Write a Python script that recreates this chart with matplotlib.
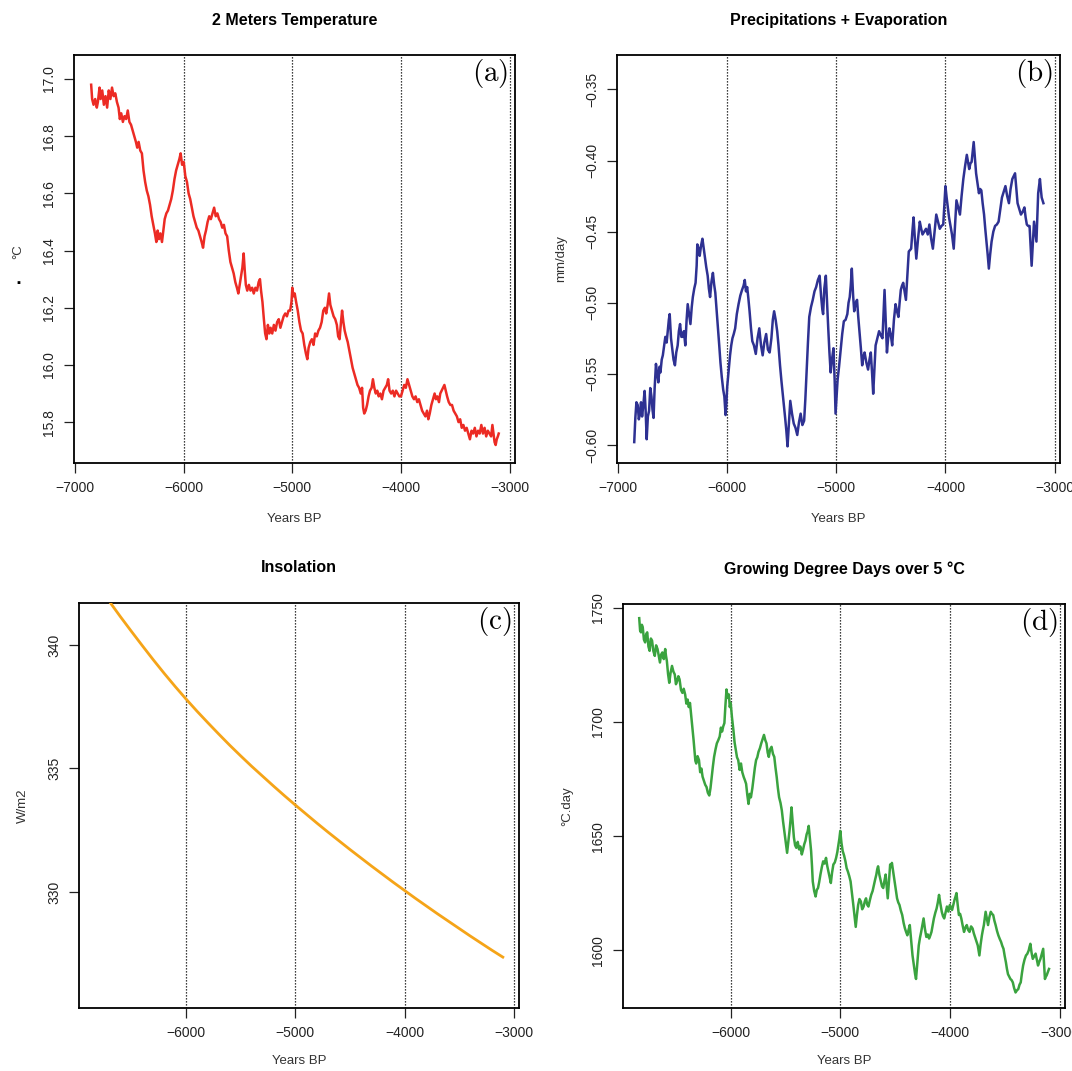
import matplotlib.pyplot as plt

plt.rcParams['font.family'] = ['Liberation Sans', 'DejaVu Sans']
plt.rcParams['mathtext.fontset'] = 'cm'

# (year, value)
temp = [(-6852,16.98),(-6843,16.93),(-6830,16.91),(-6815,16.93),(-6800,16.90),(-6790,16.92),(-6775,16.97),(-6765,16.93),
        (-6750,16.96),(-6735,16.91),(-6720,16.94),(-6705,16.90),(-6690,16.96),(-6675,16.93),(-6660,16.97),(-6645,16.94),
        (-6630,16.95),(-6615,16.92),(-6600,16.90),(-6588,16.86),(-6575,16.88),(-6560,16.85),(-6545,16.87),(-6530,16.86),
        (-6515,16.89),(-6500,16.85),(-6485,16.84),(-6470,16.82),(-6455,16.80),(-6440,16.78),(-6428,16.76),(-6415,16.78),
        (-6400,16.75),(-6385,16.74),(-6370,16.68),(-6355,16.64),(-6340,16.61),(-6325,16.59),(-6310,16.56),(-6295,16.52),
        (-6280,16.49),(-6265,16.46),(-6252,16.43),(-6240,16.47),(-6228,16.44),(-6215,16.46),(-6200,16.43),(-6188,16.47),
        (-6175,16.51),(-6160,16.53),(-6145,16.54),(-6130,16.56),(-6115,16.58),(-6100,16.61),(-6085,16.65),(-6070,16.68),
        (-6055,16.70),(-6040,16.72),(-6028,16.74),(-6015,16.70),(-6000,16.71),(-5985,16.66),(-5970,16.64),(-5955,16.60),
        (-5940,16.58),(-5925,16.55),(-5910,16.52),(-5895,16.50),(-5880,16.48),(-5865,16.47),(-5850,16.45),(-5835,16.43),
        (-5822,16.41),(-5808,16.45),(-5795,16.47),(-5780,16.50),(-5765,16.52),(-5750,16.51),(-5735,16.53),(-5720,16.55),
        (-5705,16.52),(-5690,16.53),(-5675,16.51),(-5660,16.50),(-5645,16.48),(-5630,16.49),(-5615,16.46),(-5600,16.45),
        (-5585,16.40),(-5570,16.36),(-5555,16.34),(-5540,16.32),(-5525,16.29),(-5510,16.27),(-5497,16.25),(-5485,16.28),
        (-5472,16.31),(-5460,16.34),(-5448,16.39),(-5438,16.33),(-5428,16.28),(-5415,16.26),(-5400,16.28),(-5385,16.26),
        (-5370,16.27),(-5355,16.25),(-5340,16.27),(-5325,16.26),(-5310,16.29),(-5298,16.30),(-5288,16.26),(-5275,16.22),
        (-5262,16.16),(-5250,16.11),(-5238,16.09),(-5225,16.14),(-5212,16.11),(-5200,16.13),(-5185,16.11),(-5170,16.14),
        (-5155,16.12),(-5140,16.15),(-5125,16.16),(-5110,16.13),(-5095,16.15),(-5080,16.17),(-5065,16.18),(-5050,16.17),
        (-5035,16.19),(-5020,16.19),(-5008,16.22),(-5000,16.27),(-4990,16.24),(-4978,16.25),(-4965,16.22),(-4950,16.19),
        (-4935,16.15),(-4920,16.12),(-4905,16.11),(-4890,16.07),(-4875,16.04),(-4862,16.02),(-4850,16.06),(-4835,16.08),
        (-4820,16.09),(-4805,16.07),(-4790,16.11),(-4775,16.10),(-4760,16.12),(-4745,16.13),(-4730,16.15),(-4715,16.19),
        (-4700,16.20),(-4688,16.18),(-4675,16.21),(-4662,16.25),(-4650,16.21),(-4635,16.19),(-4620,16.17),(-4605,16.16),
        (-4590,16.14),(-4578,16.10),(-4565,16.09),(-4552,16.15),(-4542,16.19),(-4530,16.15),(-4518,16.12),(-4505,16.10),
        (-4490,16.08),(-4475,16.05),(-4460,16.02),(-4445,15.99),(-4430,15.97),(-4415,15.95),(-4400,15.93),(-4385,15.92),
        (-4370,15.90),(-4358,15.92),(-4348,15.85),(-4338,15.83),(-4325,15.84),(-4312,15.86),(-4298,15.89),(-4285,15.91),
        (-4270,15.92),(-4258,15.95),(-4245,15.92),(-4232,15.90),(-4218,15.91),(-4205,15.89),(-4190,15.90),(-4175,15.88),
        (-4160,15.91),(-4145,15.92),(-4130,15.93),(-4118,15.95),(-4105,15.91),(-4090,15.90),(-4075,15.91),(-4060,15.89),
        (-4045,15.91),(-4030,15.90),(-4015,15.89),(-4000,15.89),(-3985,15.91),(-3970,15.93),(-3955,15.92),(-3940,15.95),
        (-3925,15.93),(-3910,15.91),(-3895,15.89),(-3880,15.88),(-3865,15.89),(-3850,15.87),(-3835,15.88),(-3820,15.86),
        (-3805,15.84),(-3790,15.83),(-3775,15.82),(-3760,15.84),(-3748,15.81),(-3735,15.83),(-3720,15.86),(-3705,15.88),
        (-3690,15.90),(-3678,15.88),(-3665,15.89),(-3650,15.87),(-3638,15.90),(-3625,15.91),(-3612,15.92),(-3600,15.93),
        (-3588,15.91),(-3575,15.89),(-3560,15.87),(-3545,15.86),(-3530,15.86),(-3515,15.84),(-3500,15.83),(-3485,15.82),
        (-3470,15.80),(-3455,15.81),(-3440,15.78),(-3425,15.79),(-3410,15.77),(-3395,15.78),(-3380,15.76),(-3365,15.74),
        (-3350,15.77),(-3335,15.76),(-3320,15.78),(-3305,15.75),(-3290,15.77),(-3275,15.76),(-3260,15.79),(-3245,15.76),
        (-3230,15.78),(-3215,15.75),(-3200,15.77),(-3185,15.76),(-3170,15.75),(-3158,15.79),(-3148,15.76),(-3138,15.73),
        (-3128,15.72),(-3118,15.74),(-3108,15.75),(-3100,15.76)]

pe = [(-6852,-0.598),(-6842,-0.581),(-6832,-0.570),(-6820,-0.572),(-6810,-0.582),(-6800,-0.578),(-6790,-0.570),
      (-6780,-0.580),(-6770,-0.573),(-6757,-0.562),(-6748,-0.575),(-6738,-0.596),(-6727,-0.580),(-6716,-0.576),
      (-6705,-0.560),(-6694,-0.566),(-6685,-0.575),(-6675,-0.581),(-6665,-0.560),(-6653,-0.543),(-6642,-0.550),
      (-6631,-0.556),(-6620,-0.545),(-6612,-0.549),(-6600,-0.540),(-6590,-0.537),(-6578,-0.530),(-6567,-0.524),
      (-6555,-0.528),(-6542,-0.518),(-6535,-0.512),(-6527,-0.508),(-6515,-0.525),(-6504,-0.532),(-6492,-0.540),
      (-6479,-0.544),(-6467,-0.535),(-6454,-0.530),(-6443,-0.520),(-6432,-0.515),(-6420,-0.524),(-6410,-0.524),
      (-6397,-0.520),(-6384,-0.530),(-6372,-0.512),(-6362,-0.501),(-6350,-0.508),(-6337,-0.515),(-6325,-0.503),
      (-6315,-0.496),(-6302,-0.490),(-6290,-0.486),(-6280,-0.474),(-6274,-0.459),(-6262,-0.462),(-6252,-0.467),
      (-6240,-0.460),(-6227,-0.455),(-6215,-0.462),(-6204,-0.469),(-6192,-0.475),(-6179,-0.481),(-6168,-0.490),
      (-6157,-0.496),(-6144,-0.485),(-6131,-0.479),(-6120,-0.487),(-6109,-0.493),(-6097,-0.505),(-6084,-0.518),
      (-6073,-0.530),(-6062,-0.542),(-6050,-0.552),(-6037,-0.561),(-6026,-0.566),(-6015,-0.579),(-6007,-0.570),
      (-6000,-0.559),(-5987,-0.548),(-5974,-0.537),(-5963,-0.530),(-5952,-0.525),(-5940,-0.522),(-5927,-0.518),
      (-5912,-0.508),(-5896,-0.501),(-5880,-0.495),(-5864,-0.491),(-5850,-0.488),(-5839,-0.484),(-5828,-0.492),
      (-5817,-0.489),(-5806,-0.497),(-5795,-0.506),(-5782,-0.518),(-5770,-0.527),(-5755,-0.530),(-5738,-0.536),
      (-5722,-0.525),(-5706,-0.518),(-5690,-0.530),(-5675,-0.537),(-5660,-0.528),(-5643,-0.522),(-5627,-0.533),
      (-5611,-0.535),(-5595,-0.525),(-5582,-0.512),(-5570,-0.506),(-5556,-0.512),(-5542,-0.520),(-5530,-0.530),
      (-5516,-0.544),(-5503,-0.555),(-5491,-0.564),(-5480,-0.572),(-5469,-0.581),(-5458,-0.590),(-5447,-0.601),
      (-5435,-0.585),(-5422,-0.569),(-5406,-0.578),(-5390,-0.585),(-5374,-0.588),(-5358,-0.593),(-5342,-0.584),
      (-5327,-0.578),(-5311,-0.586),(-5295,-0.583),(-5284,-0.568),(-5273,-0.549),(-5260,-0.528),(-5248,-0.510),
      (-5232,-0.503),(-5216,-0.498),(-5200,-0.492),(-5185,-0.489),(-5169,-0.484),(-5153,-0.481),(-5140,-0.495),
      (-5128,-0.505),(-5121,-0.508),(-5110,-0.490),(-5096,-0.481),(-5085,-0.500),(-5074,-0.518),(-5063,-0.535),
      (-5052,-0.549),(-5040,-0.540),(-5026,-0.532),(-5015,-0.555),(-5007,-0.578),(-4998,-0.566),(-4988,-0.554),
      (-4975,-0.545),(-4962,-0.535),(-4946,-0.522),(-4931,-0.513),(-4915,-0.512),(-4899,-0.508),(-4888,-0.500),
      (-4877,-0.496),(-4868,-0.488),(-4858,-0.476),(-4846,-0.495),(-4836,-0.506),(-4822,-0.500),(-4810,-0.498),
      (-4799,-0.510),(-4788,-0.520),(-4775,-0.532),(-4763,-0.544),(-4752,-0.538),(-4741,-0.535),(-4725,-0.542),
      (-4709,-0.547),(-4696,-0.540),(-4684,-0.535),(-4672,-0.550),(-4662,-0.564),(-4650,-0.545),(-4640,-0.530),
      (-4624,-0.525),(-4608,-0.520),(-4592,-0.523),(-4577,-0.525),(-4568,-0.508),(-4558,-0.491),(-4546,-0.515),
      (-4536,-0.535),(-4525,-0.525),(-4514,-0.518),(-4500,-0.523),(-4488,-0.530),(-4472,-0.512),(-4457,-0.501),
      (-4444,-0.506),(-4431,-0.510),(-4420,-0.500),(-4409,-0.491),(-4398,-0.488),(-4387,-0.486),(-4375,-0.492),
      (-4362,-0.498),(-4348,-0.480),(-4336,-0.464),(-4325,-0.463),(-4314,-0.462),(-4303,-0.450),(-4292,-0.440),
      (-4280,-0.455),(-4267,-0.469),(-4251,-0.455),(-4235,-0.443),(-4222,-0.448),(-4210,-0.452),(-4194,-0.450),
      (-4178,-0.448),(-4162,-0.452),(-4147,-0.445),(-4131,-0.455),(-4115,-0.462),(-4100,-0.450),(-4084,-0.438),
      (-4068,-0.443),(-4052,-0.448),(-4036,-0.446),(-4020,-0.445),(-4010,-0.432),(-4000,-0.418),(-3989,-0.426),
      (-3978,-0.433),(-3967,-0.440),(-3956,-0.445),(-3940,-0.452),(-3924,-0.462),(-3912,-0.445),(-3899,-0.428),
      (-3883,-0.433),(-3867,-0.438),(-3852,-0.425),(-3836,-0.413),(-3820,-0.404),(-3804,-0.396),(-3793,-0.401),
      (-3782,-0.406),(-3771,-0.402),(-3760,-0.401),(-3750,-0.394),(-3741,-0.387),(-3730,-0.398),(-3719,-0.409),
      (-3706,-0.416),(-3693,-0.423),(-3682,-0.420),(-3671,-0.421),(-3659,-0.430),(-3646,-0.438),(-3635,-0.448),
      (-3624,-0.457),(-3613,-0.466),(-3602,-0.476),(-3590,-0.466),(-3577,-0.457),(-3561,-0.450),(-3545,-0.446),
      (-3529,-0.445),(-3513,-0.443),(-3498,-0.435),(-3482,-0.426),(-3466,-0.422),(-3450,-0.418),(-3434,-0.425),
      (-3418,-0.430),(-3403,-0.420),(-3387,-0.413),(-3375,-0.411),(-3362,-0.409),(-3350,-0.420),(-3339,-0.430),
      (-3323,-0.434),(-3308,-0.438),(-3292,-0.436),(-3276,-0.433),(-3265,-0.440),(-3254,-0.445),(-3242,-0.446),
      (-3229,-0.446),(-3220,-0.460),(-3210,-0.474),(-3199,-0.458),(-3188,-0.443),(-3177,-0.450),(-3166,-0.457),
      (-3158,-0.440),(-3150,-0.423),(-3142,-0.418),(-3134,-0.413),(-3126,-0.420),(-3118,-0.426),(-3110,-0.428),
      (-3102,-0.430)]

insol_years = [-6860, -6800, -6700, -6600, -6500, -6400, -6300, -6200, -6100, -6000, -5900, -5800, -5700, -5600,
               -5500, -5400, -5300, -5200, -5100, -5000, -4900, -4800, -4700, -4600, -4500, -4400, -4300, -4200,
               -4100, -4000, -3900, -3800, -3700, -3600, -3500, -3400, -3300, -3200, -3100]
insol_vals = [342.75, 342.38, 341.75, 341.14, 340.55, 339.97, 339.40, 338.85, 338.32, 337.81, 337.32, 336.85,
              336.39, 335.94, 335.51, 335.09, 334.69, 334.29, 333.90, 333.52, 333.15, 332.78, 332.42, 332.07,
              331.72, 331.38, 331.04, 330.71, 330.38, 330.06, 329.74, 329.43, 329.12, 328.82, 328.52, 328.22,
              327.93, 327.64, 327.36]

gdd = [(-6834,1745.4),(-6826,1740.0),(-6818,1739.2),(-6810,1742.5),(-6802,1741.5),(-6791,1736.0),(-6780,1734.8),
       (-6770,1738.5),(-6761,1739.2),(-6750,1733.0),(-6739,1731.1),(-6728,1736.5),(-6717,1735.6),(-6705,1731.0),
       (-6692,1728.9),(-6680,1733.5),(-6667,1731.9),(-6656,1729.0),(-6645,1726.0),(-6634,1729.5),(-6623,1730.4),
       (-6610,1727.5),(-6597,1731.9),(-6590,1729.0),(-6582,1726.7),(-6571,1721.0),(-6560,1717.1),(-6548,1721.5),
       (-6535,1724.5),(-6522,1722.0),(-6510,1720.8),(-6499,1716.5),(-6488,1717.9),(-6477,1720.0),(-6466,1718.6),
       (-6453,1714.0),(-6440,1712.7),(-6428,1714.5),(-6415,1712.0),(-6404,1708.0),(-6393,1709.8),(-6382,1706.5),
       (-6371,1708.3),(-6358,1702.0),(-6346,1696.5),(-6338,1692.0),(-6330,1687.7),(-6322,1683.0),(-6314,1681.8),
       (-6302,1685.0),(-6289,1683.3),(-6278,1678.0),(-6267,1679.6),(-6256,1676.0),(-6245,1674.4),(-6232,1672.5),
       (-6220,1671.5),(-6208,1669.0),(-6195,1667.8),(-6184,1671.0),(-6173,1675.9),(-6162,1680.5),(-6151,1684.7),
       (-6138,1688.0),(-6126,1690.6),(-6113,1692.0),(-6100,1693.6),(-6089,1697.5),(-6078,1695.8),(-6068,1698.0),
       (-6057,1699.5),(-6048,1707.0),(-6038,1714.2),(-6027,1710.5),(-6016,1712.0),(-6008,1706.5),(-6000,1708.3),
       (-5988,1702.0),(-5975,1696.5),(-5964,1691.0),(-5953,1687.7),(-5942,1684.5),(-5931,1683.3),(-5918,1679.0),
       (-5906,1681.8),(-5894,1678.0),(-5881,1675.9),(-5870,1674.5),(-5859,1672.9),(-5848,1668.0),(-5837,1664.1),
       (-5826,1668.5),(-5815,1667.0),(-5802,1671.0),(-5790,1675.9),(-5779,1680.0),(-5768,1683.3),(-5757,1684.5),
       (-5746,1686.9),(-5733,1688.5),(-5721,1690.6),(-5708,1692.5),(-5696,1694.3),(-5684,1692.0),(-5673,1690.6),
       (-5662,1686.5),(-5652,1684.7),(-5640,1688.0),(-5627,1689.1),(-5614,1686.0),(-5602,1684.7),(-5591,1680.0),
       (-5580,1675.9),(-5569,1671.0),(-5558,1667.0),(-5545,1664.5),(-5533,1661.2),(-5522,1656.5),(-5511,1652.3),
       (-5498,1647.0),(-5485,1642.7),(-5474,1647.5),(-5463,1652.3),(-5454,1657.0),(-5445,1662.6),(-5434,1656.0),
       (-5423,1649.4),(-5412,1646.0),(-5401,1644.9),(-5388,1647.5),(-5376,1644.2),(-5364,1645.5),(-5351,1642.0),
       (-5340,1644.0),(-5329,1646.4),(-5318,1648.0),(-5307,1650.8),(-5298,1652.0),(-5288,1654.5),(-5277,1649.0),
       (-5266,1643.5),(-5258,1637.0),(-5251,1630.2),(-5238,1626.0),(-5225,1623.6),(-5214,1626.5),(-5203,1627.3),
       (-5192,1630.0),(-5181,1633.2),(-5168,1636.5),(-5156,1639.0),(-5143,1638.0),(-5130,1640.5),(-5119,1637.0),
       (-5108,1634.6),(-5097,1632.0),(-5086,1629.5),(-5075,1634.0),(-5063,1637.6),(-5050,1638.5),(-5038,1640.5),
       (-5027,1643.0),(-5016,1646.4),(-5008,1649.0),(-5000,1652.3),(-4989,1647.0),(-4978,1643.5),(-4965,1641.5),
       (-4953,1639.0),(-4942,1636.0),(-4931,1634.6),(-4918,1632.5),(-4906,1630.2),(-4893,1625.0),(-4881,1619.9),
       (-4870,1615.0),(-4859,1610.3),(-4848,1615.5),(-4837,1619.9),(-4825,1622.5),(-4812,1621.4),(-4800,1618.0),
       (-4787,1619.2),(-4776,1621.5),(-4765,1622.8),(-4754,1620.0),(-4743,1619.2),(-4730,1622.0),(-4718,1624.3),
       (-4705,1626.0),(-4693,1628.7),(-4682,1631.0),(-4671,1633.2),(-4663,1635.5),(-4655,1636.8),(-4643,1633.0),
       (-4630,1630.2),(-4619,1628.0),(-4608,1627.3),(-4597,1630.5),(-4586,1633.2),(-4576,1628.0),(-4567,1622.8),
       (-4556,1630.0),(-4545,1637.6),(-4537,1636.5),(-4529,1638.3),(-4516,1634.0),(-4504,1630.2),(-4493,1626.5),
       (-4482,1622.8),(-4471,1621.0),(-4460,1619.9),(-4448,1617.5),(-4435,1615.5),(-4422,1612.0),(-4410,1609.6),
       (-4399,1608.0),(-4388,1606.6),(-4377,1609.0),(-4366,1611.1),(-4353,1604.0),(-4341,1597.8),(-4333,1595.0),
       (-4325,1591.9),(-4317,1589.5),(-4309,1587.5),(-4296,1595.0),(-4284,1602.2),(-4273,1605.5),(-4262,1608.1),
       (-4251,1611.0),(-4240,1614.0),(-4228,1609.5),(-4215,1605.9),(-4202,1607.0),(-4190,1605.2),(-4179,1606.5),
       (-4168,1608.1),(-4157,1611.0),(-4146,1614.0),(-4133,1616.5),(-4121,1618.4),(-4110,1621.0),(-4099,1624.3),
       (-4087,1620.5),(-4074,1616.9),(-4063,1615.0),(-4052,1614.0),(-4040,1616.5),(-4027,1619.2),(-4014,1617.0),
       (-4000,1619.9),(-3990,1618.5),(-3980,1617.7),(-3969,1620.0),(-3958,1622.1),(-3949,1623.5),(-3940,1625.1),
       (-3929,1620.0),(-3918,1615.5),(-3907,1616.0),(-3896,1614.0),(-3884,1611.0),(-3871,1608.1),(-3859,1610.0),
       (-3846,1611.1),(-3834,1609.0),(-3821,1608.1),(-3807,1610.5),(-3793,1609.6),(-3782,1607.5),(-3771,1605.9),
       (-3758,1604.0),(-3746,1602.2),(-3738,1600.0),(-3731,1597.8),(-3720,1602.5),(-3708,1606.6),(-3699,1609.0),
       (-3690,1611.1),(-3682,1614.0),(-3674,1616.9),(-3663,1614.0),(-3652,1611.1),(-3640,1614.5),(-3627,1616.9),
       (-3616,1616.0),(-3605,1615.5),(-3594,1613.0),(-3583,1611.1),(-3570,1608.5),(-3558,1606.6),(-3545,1605.0),
       (-3533,1603.7),(-3522,1602.0),(-3511,1600.7),(-3500,1597.5),(-3489,1594.8),(-3480,1592.0),(-3470,1589.6),
       (-3459,1588.5),(-3448,1587.5),(-3437,1587.0),(-3426,1586.0),(-3414,1583.5),(-3401,1581.6),(-3389,1582.5),
       (-3376,1583.1),(-3365,1585.0),(-3354,1586.0),(-3343,1590.0),(-3332,1593.4),(-3319,1596.0),(-3306,1597.8),
       (-3294,1598.5),(-3281,1600.0),(-3274,1601.5),(-3266,1602.9),(-3255,1599.0),(-3244,1596.3),(-3231,1597.5),
       (-3218,1598.6),(-3207,1596.0),(-3196,1593.4),(-3185,1595.0),(-3174,1596.3),(-3162,1598.5),(-3149,1600.7),
       (-3141,1594.0),(-3133,1587.5),(-3126,1588.5),(-3118,1589.0),(-3107,1590.5),(-3096,1591.9)]

grid_years = [-6000, -5000, -4000, -3000]

W, H = 1072, 1071
fig = plt.figure(figsize=(W / 100, H / 100), dpi=100)


def panel(l, t, r, b):
    ax = fig.add_axes([l / W, 1 - b / H, (r - l) / W, (b - t) / H])
    return ax, r - l, b - t


def decorate(ax, w, h, title, ylabel, letter, xticks, yticks, yfmt, xlim, ylim, xlab_off=56):
    ax.set_xlim(*xlim)
    ax.set_ylim(*ylim)
    for xv in grid_years:
        ax.axvline(xv, color='black', lw=0.9, ls=(0, (1, 1.4)), zorder=1)
    ax.set_xticks(xticks)
    ax.set_yticks(yticks)
    ax.set_yticklabels([(yfmt % v).replace('-', '\u2212') for v in yticks], rotation=90, va='center')
    ax.tick_params(direction='out', length=7, width=0.9, pad=6, labelsize=10, colors='#222222')
    for s in ax.spines.values():
        s.set_linewidth(1.3)
    ax.text(0.5, 1 + 35 / h, title, transform=ax.transAxes, ha='center', va='center',
            fontsize=11.5, fontweight='bold')
    ax.text(0.5, -xlab_off / h, 'Years BP', transform=ax.transAxes, ha='center', va='center',
            fontsize=9.5, color='#333333')
    if ylabel:
        ax.text(-56 / w, 0.5, ylabel, transform=ax.transAxes, ha='center', va='center',
                rotation=90, fontsize=9.5, color='#333333')
    ax.text(1 - 7 / w, 1 - 2 / h, r'$\mathrm{(' + letter + ')}$', transform=ax.transAxes,
            ha='right', va='top', fontsize=21)


# (a) temperature
ax, w, h = panel(74, 55, 515, 463)
ax.plot([p[0] for p in temp], [p[1] for p in temp], color='#ec2b24', lw=1.8, zorder=3)
decorate(ax, w, h, '2 Meters Temperature', None, 'a', [-7000, -6000, -5000, -4000, -3000],
         [15.8, 16.0, 16.2, 16.4, 16.6, 16.8, 17.0], '%.1f', (-7010, -2950), (15.657, 17.084))
ax.text(-56 / w, (463 - 252) / h, '°C', transform=ax.transAxes, ha='center', va='center',
        rotation=90, fontsize=9.5, color='#333333')
ax.text(-56 / w, (463 - 283) / h, '▪', transform=ax.transAxes, ha='center', va='center', fontsize=8)

# (b) precipitation + evaporation
ax, w, h = panel(617, 55, 1060, 463)
ax.plot([p[0] for p in pe], [p[1] for p in pe], color='#2e3192', lw=1.8, zorder=3)
decorate(ax, w, h, 'Precipitations + Evaporation', 'mm/day', 'b', [-7000, -6000, -5000, -4000, -3000],
         [-0.60, -0.55, -0.50, -0.45, -0.40, -0.35], '%.2f', (-7010, -2950), (-0.6127, -0.3258))

# (c) insolation
ax, w, h = panel(79, 603, 519, 1008)
ax.plot(insol_years, insol_vals, color='#f5a418', lw=2, zorder=3)
decorate(ax, w, h, 'Insolation', 'W/m2', 'c', [-6000, -5000, -4000, -3000],
         [330, 335, 340], '%d', (-6980, -2952), (325.3, 341.7), xlab_off=53)

# (d) growing degree days
ax, w, h = panel(623, 604, 1065, 1008)
ax.plot([p[0] for p in gdd], [p[1] for p in gdd], color='#3aa33f', lw=1.8, zorder=3)
decorate(ax, w, h, 'Growing Degree Days over 5 °C', '°C.day', 'd', [-6000, -5000, -4000, -3000],
         [1600, 1650, 1700, 1750], '%d', (-6982, -2950), (1574.8, 1751.6), xlab_off=53)

fig.savefig('out.png', dpi=100)
